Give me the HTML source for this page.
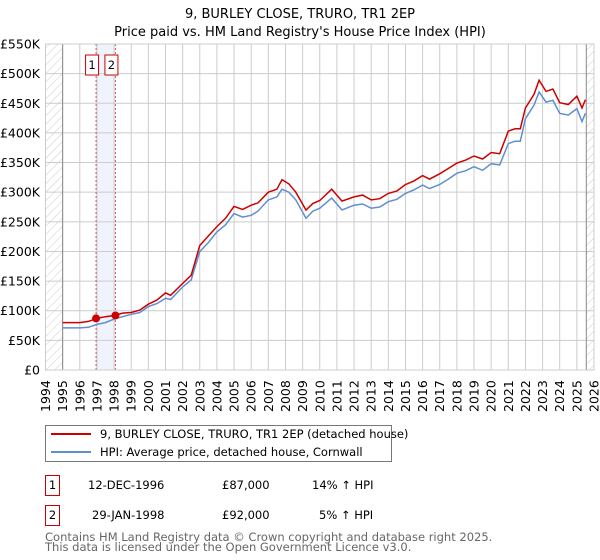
<!DOCTYPE html>
<html><head><meta charset="utf-8"><style>
body{margin:0;background:#fff;font-family:"DejaVu Sans","Liberation Sans",sans-serif;}
#wrap{position:relative;width:600px;height:560px;overflow:hidden;}
</style></head><body>
<div id="wrap">
<svg id="svg" width="600" height="560" style="position:absolute;left:0;top:0">
<defs><pattern id="hatch" width="6" height="6" patternUnits="userSpaceOnUse" patternTransform="rotate(45)"><line x1="0" y1="0" x2="0" y2="6" stroke="#ccc" stroke-width="1"/></pattern></defs>
<text x="300" y="18" text-anchor="middle" font-size="13">9, BURLEY CLOSE, TRURO, TR1 2EP</text>
<text x="300" y="36" text-anchor="middle" font-size="13">Price paid vs. HM Land Registry's House Price Index (HPI)</text>
<g id="grid"></g><g id="marks"></g><g id="axes"></g>
</svg>
<svg width="600" height="560" style="position:absolute;left:0;top:0">
<rect x="45.5" y="425.5" width="346" height="36" fill="#fff" stroke="#777"/>
<line x1="51" y1="434" x2="91" y2="434" stroke="#cc0000" stroke-width="2"/>
<line x1="51" y1="452" x2="91" y2="452" stroke="#5f8fd0" stroke-width="2"/>
<text x="100" y="438" font-size="11.5">9, BURLEY CLOSE, TRURO, TR1 2EP (detached house)</text>
<text x="100" y="456" font-size="11.5">HPI: Average price, detached house, Cornwall</text>
<rect x="45.5" y="475.5" width="14" height="20" fill="#fff" stroke="#cc0000"/>
<text x="52.5" y="489" font-size="11.5" text-anchor="middle">1</text>
<text x="88" y="489" font-size="11.5">12-DEC-1996</text>
<text x="222" y="489" font-size="11.5">£87,000</text>
<text x="312" y="489" font-size="11.5">14% ↑ HPI</text>
<rect x="45.5" y="505.5" width="14" height="20" fill="#fff" stroke="#cc0000"/>
<text x="52.5" y="519" font-size="11.5" text-anchor="middle">2</text>
<text x="92" y="519" font-size="11.5">29-JAN-1998</text>
<text x="222" y="519" font-size="11.5">£92,000</text>
<text x="319" y="519" font-size="11.5">5% ↑ HPI</text>
<text x="45" y="541" font-size="11.5" fill="#666">Contains HM Land Registry data © Crown copyright and database right 2025.</text>
<text x="45" y="551" font-size="11.5" fill="#666">This data is licensed under the Open Government Licence v3.0.</text>
</svg>
</div>
<script>
const hpiYears=[1995,1995.5,1996,1996.5,1997,1997.5,1998,1998.5,1999,1999.5,2000,2000.5,2001,2001.3,2002,2002.5,2003,2003.5,2004,2004.5,2005,2005.5,2006,2006.4,2007,2007.5,2007.8,2008.2,2008.6,2009.2,2009.6,2010,2010.7,2011.3,2012,2012.5,2013,2013.5,2014,2014.5,2015,2015.5,2016,2016.4,2017,2017.5,2018,2018.5,2019,2019.5,2020,2020.5,2021,2021.4,2021.7,2022,2022.5,2022.8,2023.2,2023.6,2024,2024.5,2025,2025.3,2025.5];
const hpiValues=[71,71,71,72,77,80,86,90,94,97,107,112,121,119,140,152,200,215,233,245,264,258,261,268,287,292,305,300,287,256,268,273,290,270,278,280,273,275,284,288,298,304,312,306,313,322,332,336,343,337,348,346,382,386,386,424,447,469,452,455,433,430,441,419,433];
const redValues=[80,80,80,82,87,90,92,96,97,101,111,118,130,126,146,160,210,226,242,256,276,271,278,282,300,305,321,314,300,270,281,286,305,285,292,295,287,289,298,302,313,319,328,322,331,340,349,354,361,356,367,365,403,407,407,442,465,489,470,474,451,448,462,442,456];
const saleYears=[1996.95,1998.08];
const salePrices=[87,92];
const yTicks=[0,50,100,150,200,250,300,350,400,450,500,550];
const xTicks=[1994,1995,1996,1997,1998,1999,2000,2001,2002,2003,2004,2005,2006,2007,2008,2009,2010,2011,2012,2013,2014,2015,2016,2017,2018,2019,2020,2021,2022,2023,2024,2025,2026];
const X0=45.5,X1=594,Y0=370,Y1=44;
const xs=y=>X0+(y-1994)*(X1-X0)/32;
const ys=v=>Y0-v*(Y0-Y1)/550;
const NS="http://www.w3.org/2000/svg";
function mk(parent,tag,attrs){const e=document.createElementNS(NS,tag);for(const k in attrs)e.setAttribute(k,attrs[k]);parent.appendChild(e);return e;}
const grid=document.getElementById('grid'),marks=document.getElementById('marks'),axes=document.getElementById('axes');
let h1=mk(grid,'rect',{x:X0,y:Y1,width:xs(1995)-X0,height:Y0-Y1,fill:'url(#hatch)'});


let h2=mk(grid,'rect',{x:xs(2025.55),y:Y1,width:X1-xs(2025.55),height:Y0-Y1,fill:'url(#hatch)'});


let band=mk(grid,'rect',{x:xs(saleYears[0]),y:Y1,width:xs(saleYears[1])-xs(saleYears[0]),height:Y0-Y1,fill:'#eef3fc'});


xTicks.forEach(t=>{mk(grid,'line',{x1:xs(t),x2:xs(t),y1:Y1,y2:Y0,stroke:'#ccc'});
 const tx=mk(axes,'text',{x:0,y:0,'font-size':12.5,transform:`translate(${xs(t)+4.5},${Y0+42}) rotate(-90)`});tx.textContent=t;
 
 });
yTicks.forEach(t=>{mk(grid,'line',{x1:X0,x2:X1,y1:ys(t),y2:ys(t),stroke:'#ccc'});
 const tx=mk(axes,'text',{x:40,y:ys(t)+4.5,'font-size':12.5,'text-anchor':'end'});tx.textContent='£'+(t?t+'K':'0');
 
 });
mk(grid,'line',{x1:xs(1995),x2:xs(1995),y1:Y1,y2:Y0,stroke:'#888'});
mk(grid,'line',{x1:xs(2025.55),x2:xs(2025.55),y1:Y1,y2:Y0,stroke:'#888'});
saleYears.forEach((s,i)=>{const l=mk(marks,'line',{x1:xs(s),x2:xs(s),y1:Y1,y2:Y0,stroke:'#e05555','stroke-dasharray':'2,2'});
 
 });
function path(vals){return hpiYears.map((y,i)=>(i?'L':'M')+xs(y).toFixed(1)+','+ys(vals[i]).toFixed(1)).join('');}
const bl=mk(marks,'path',{d:path(hpiValues),fill:'none',stroke:'#5f8fd0','stroke-width':1.5});


const rl=mk(marks,'path',{d:path(redValues),fill:'none',stroke:'#cc0000','stroke-width':1.5});


saleYears.forEach((s,i)=>{const c=mk(marks,'circle',{cx:xs(s),cy:ys(salePrices[i]),r:4,fill:'#cc0000'});
 
 
 const r=mk(marks,'rect',{x:xs(s)-10.5,y:55,width:13,height:20,fill:'#fff',stroke:'#cc0000'});
 
 
 const t=mk(marks,'text',{x:xs(s)-4,y:69,'font-size':11.5,'text-anchor':'middle'});t.textContent=i+1;
 
 });
mk(axes,'rect',{x:X0,y:Y1,width:X1-X0,height:Y0-Y1,fill:'none',stroke:'#ccc'});
</script>
</body></html>
